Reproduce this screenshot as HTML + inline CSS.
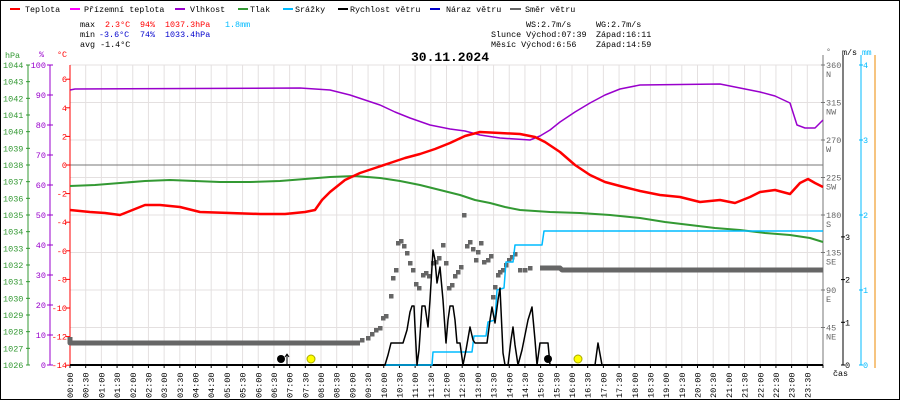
<!DOCTYPE html>
<html><head><meta charset="utf-8"><style>
html,body{margin:0;padding:0;background:#fff}
svg{display:block;font-family:"Liberation Mono","DejaVu Sans Mono",monospace}
</style></head><body>
<svg id="s" width="900" height="400" viewBox="0 0 900 400" xmlns="http://www.w3.org/2000/svg">
<rect x="0.5" y="0.5" width="899" height="399" fill="#fff" stroke="#000"/>
<g id="grid"></g>
<g font-size="8.4">
<line x1="10" y1="9" x2="20" y2="9" stroke="#f00" stroke-width="2"/><text x="25" y="12">Teplota</text>
<line x1="70" y1="9" x2="80" y2="9" stroke="#f0f" stroke-width="2"/><text x="84" y="12">Přízemní teplota</text>
<line x1="175" y1="9" x2="185" y2="9" stroke="#90c" stroke-width="2"/><text x="190" y="12">Vlhkost</text>
<line x1="238" y1="9" x2="248" y2="9" stroke="#393" stroke-width="2"/><text x="250" y="12">Tlak</text>
<line x1="283" y1="9" x2="293" y2="9" stroke="#0bf" stroke-width="2"/><text x="295" y="12">Srážky</text>
<line x1="338" y1="9" x2="348" y2="9" stroke="#000" stroke-width="2"/><text x="350" y="12">Rychlost větru</text>
<line x1="430" y1="9" x2="440" y2="9" stroke="#00c" stroke-width="2"/><text x="446" y="12">Náraz větru</text>
<line x1="510" y1="9" x2="521" y2="9" stroke="#666" stroke-width="2"/><text x="525" y="12">Směr větru</text>
<text x="80" y="27">max</text><text x="105" y="27" fill="#f00">2.3°C</text><text x="140" y="27" fill="#f00">94%</text><text x="165" y="27" fill="#f00">1037.3hPa</text><text x="225" y="27" fill="#0bf">1.8mm</text>
<text x="80" y="37">min</text><text x="99" y="37" fill="#00c">-3.6°C</text><text x="140" y="37" fill="#00c">74%</text><text x="165" y="37" fill="#00c">1033.4hPa</text>
<text x="80" y="47">avg -1.4°C</text>
<text x="526" y="27">WS:2.7m/s</text><text x="596" y="27">WG:2.7m/s</text>
<text x="491" y="37">Slunce Východ:07:39</text><text x="596" y="37">Západ:16:11</text>
<text x="491" y="47">Měsíc  Východ:6:56</text><text x="596" y="47">Západ:14:59</text>
<text x="450" y="61" font-size="13" font-weight="bold" text-anchor="middle">30.11.2024</text>
<text x="5" y="58" fill="#393">hPa</text><text x="39" y="57" fill="#90c">%</text><text x="57" y="57" fill="#f00">°C</text>
<text x="826" y="54" fill="#666">°</text><text x="842" y="55">m/s</text><text x="862" y="55" fill="#0bf" font-size="8">mm</text>
<text x="833" y="376">čas</text>
</g>
<g id="axes" font-size="9"></g>
<g id="data"></g>
</svg>
<script>
const NS="http://www.w3.org/2000/svg";
function el(p,t,a,txt){const e=document.createElementNS(NS,t);for(const k in a)e.setAttribute(k,a[k]);if(txt!==undefined)e.textContent=txt;document.getElementById(p).appendChild(e);return e;}
const X0=70,X1=823,Y0=65,Y1=365,dx=(X1-X0)/48;
for(let i=0;i<=48;i++){const x=X0+i*dx;el('grid','line',{x1:x,y1:Y0,x2:x,y2:Y1,stroke:'#e4e0e0'});
 if(i<48){const h=Math.floor(i/2),m=i%2?'30':'00';
 el('axes','text',{x:0,y:0,transform:`translate(${x+3},398) rotate(-90)`,'font-size':'8.5'},(h<10?'0':'')+h+':'+m);}
 el('axes','line',{x1:x,y1:365,x2:x,y2:368,stroke:'#000'});}
for(let i=0;i<=8;i++){const y=Y1-i*37.5;el('grid','line',{x1:X0,y1:y,x2:X1,y2:y,stroke:'#e4e0e0'});}
el('grid','line',{x1:X0,y1:165,x2:X1,y2:165,stroke:'#777'});
el('axes','line',{x1:28,y1:Y0,x2:28,y2:Y1,stroke:'#393'});
el('axes','line',{x1:50,y1:Y0,x2:50,y2:Y1,stroke:'#90c'});
el('axes','line',{x1:70,y1:Y0,x2:70,y2:Y1,stroke:'#f00'});
for(let p=1026;p<=1044;p++){const y=Y1-(p-1026)*300/18;el('axes','line',{x1:26,y1:y,x2:30,y2:y,stroke:'#393'});el('axes','text',{x:3,y:y+3,fill:'#393','font-size':'8.5'},p);}
for(let v=0;v<=100;v+=10){const y=Y1-v*3;el('axes','line',{x1:47,y1:y,x2:53,y2:y,stroke:'#90c'});el('axes','text',{x:46,y:y+3,fill:'#90c','font-size':'8.5','text-anchor':'end'},v);}
for(let t=-14;t<=6;t+=2){const y=165-t*14.3;el('axes','line',{x1:66,y1:y,x2:70,y2:y,stroke:'#f00'});el('axes','text',{x:67,y:y+3,fill:'#f00','font-size':'8.5','text-anchor':'end'},t);}
el('axes','line',{x1:823,y1:Y0-10,x2:823,y2:Y1,stroke:'#777'});
el('axes','line',{x1:843,y1:Y0-10,x2:843,y2:Y1,stroke:'#000'});
el('axes','line',{x1:861,y1:Y0-10,x2:861,y2:Y1,stroke:'#0bf'});
el('axes','line',{x1:875,y1:Y0-10,x2:875,y2:Y1+3,stroke:'#e80'});
const dirs=['','NE','E','SE','S','SW','W','NW','N'];
for(let i=1;i<=8;i++){const y=Y1-i*37.5;el('axes','line',{x1:821,y1:y,x2:825,y2:y,stroke:'#777'});el('axes','text',{x:826,y:y+3,fill:'#666','font-size':'8.5'},i*45);el('axes','text',{x:826,y:y+12,fill:'#666','font-size':'8.5'},dirs[i]);}
for(let i=0;i<=3;i++){const y=Y1-i*42.7;el('axes','line',{x1:841,y1:y,x2:845,y2:y,stroke:'#000'});el('axes','text',{x:845,y:y+3,'font-size':'8.5'},i);}
for(let i=0;i<=4;i++){const y=Y1-i*75;el('axes','line',{x1:859,y1:y,x2:863,y2:y,stroke:'#0bf'});el('axes','text',{x:863,y:y+3,fill:'#0bf','font-size':'8.5'},i);}
el('axes','line',{x1:70,y1:365,x2:823,y2:365,stroke:'#000','stroke-width':2});
function pl(pts,c,w){el('data','polyline',{points:pts.map(p=>p.join(',')).join(' '),fill:'none',stroke:c,'stroke-width':w,'stroke-linejoin':'round'});}
pl([[70,337],[70,343],[360,343]],'#666',5);
pl([[540,268],[560,268],[562,270],[823,270]],'#666',5);
const sc=[[362,340],[368,338],[372,334],[376,330],[380,328],[383,318],[386,316],[391,296],[393,278],[396,270],[398,243],[401,241],[404,246],[407,253],[410,263],[413,270],[416,284],[419,288],[423,275],[426,273],[429,276],[433,263],[436,262],[439,258],[443,245],[446,263],[449,288],[452,285],[455,276],[458,272],[461,267],[464,215],[467,246],[470,242],[473,249],[476,260],[478,252],[481,243],[484,262],[488,260],[491,256],[493,297],[495,287],[498,275],[500,272],[503,270],[506,265],[509,260],[512,257],[515,254],[520,270],[525,270],[530,268]];
sc.forEach(p=>el('data','rect',{x:p[0]-2,y:p[1]-2,width:4.5,height:4.5,fill:'#666'}));
pl([[70,186],[95,185],[120,183],[145,181],[170,180],[195,181],[220,182],[250,182],[280,181],[305,179],[330,177],[355,176],[380,178],[400,181],[420,185],[440,190],[460,195],[475,200],[490,203],[505,207],[520,210],[550,212],[580,213],[610,215],[640,218],[665,222],[690,225],[715,228],[740,230],[765,233],[790,235],[810,238],[823,242]],'#393',2);
pl([[70,90],[75,89],[300,88],[330,90],[350,95],[365,100],[380,105],[395,112],[410,118],[430,125],[450,129],[465,131],[480,135],[500,138],[530,140],[540,136],[550,130],[560,122],[575,112],[590,103],[605,95],[620,89],[640,85],[720,84],[740,88],[760,92],[775,96],[790,103],[797,125],[805,128],[815,128],[823,120]],'#90c',1.5);
pl([[70,210],[90,212],[105,213],[120,215],[130,211],[145,205],[160,205],[180,207],[200,212],[230,213],[260,214],[285,214],[305,212],[315,210],[322,200],[330,192],[345,180],[360,173],[375,168],[390,163],[405,158],[420,154],[435,149],[450,143],[465,136],[480,132],[500,133],[520,134],[535,137],[545,142],[560,152],[575,165],[590,175],[605,182],[620,186],[640,191],[660,195],[680,197],[700,202],[720,200],[735,203],[750,197],[760,192],[775,190],[790,194],[800,183],[808,179],[815,183],[823,187]],'#f00',2.5);
pl([[385,365],[432,365],[433,352],[472,352],[474,336],[486,336],[488,322],[495,320],[497,290],[504,288],[506,262],[513,262],[515,245],[542,245],[544,231],[823,231]],'#0bf',1.5);
pl([[70,365],[385,365],[388,355],[391,343],[403,343],[407,330],[410,312],[412,306],[414,306],[415,327],[417,365],[419,350],[422,306],[425,306],[428,327],[430,300],[433,250],[435,260],[437,283],[440,267],[443,300],[446,343],[448,320],[450,306],[453,306],[455,320],[457,343],[460,343],[463,365],[466,350],[470,327],[473,340],[475,343],[487,343],[490,320],[492,307],[495,323],[498,300],[500,288],[503,353],[505,365],[508,365],[511,340],[513,327],[515,345],[518,365],[522,350],[528,320],[532,307],[535,340],[537,365],[540,343],[548,343],[550,365],[595,365],[598,343],[602,365],[823,365]],'#000',1.5);
el('data','circle',{cx:281,cy:359,r:4,fill:'#000'});
pl([[287,365],[287,354]],'#000',1);pl([[285,357],[287,354],[289,357]],'#000',1);
el('data','circle',{cx:311,cy:359,r:4,fill:'#ff0',stroke:'#aa0'});
el('data','circle',{cx:548,cy:359,r:4,fill:'#000'});
el('data','circle',{cx:578,cy:359,r:4,fill:'#ff0',stroke:'#aa0'});
</script>
</body></html>
